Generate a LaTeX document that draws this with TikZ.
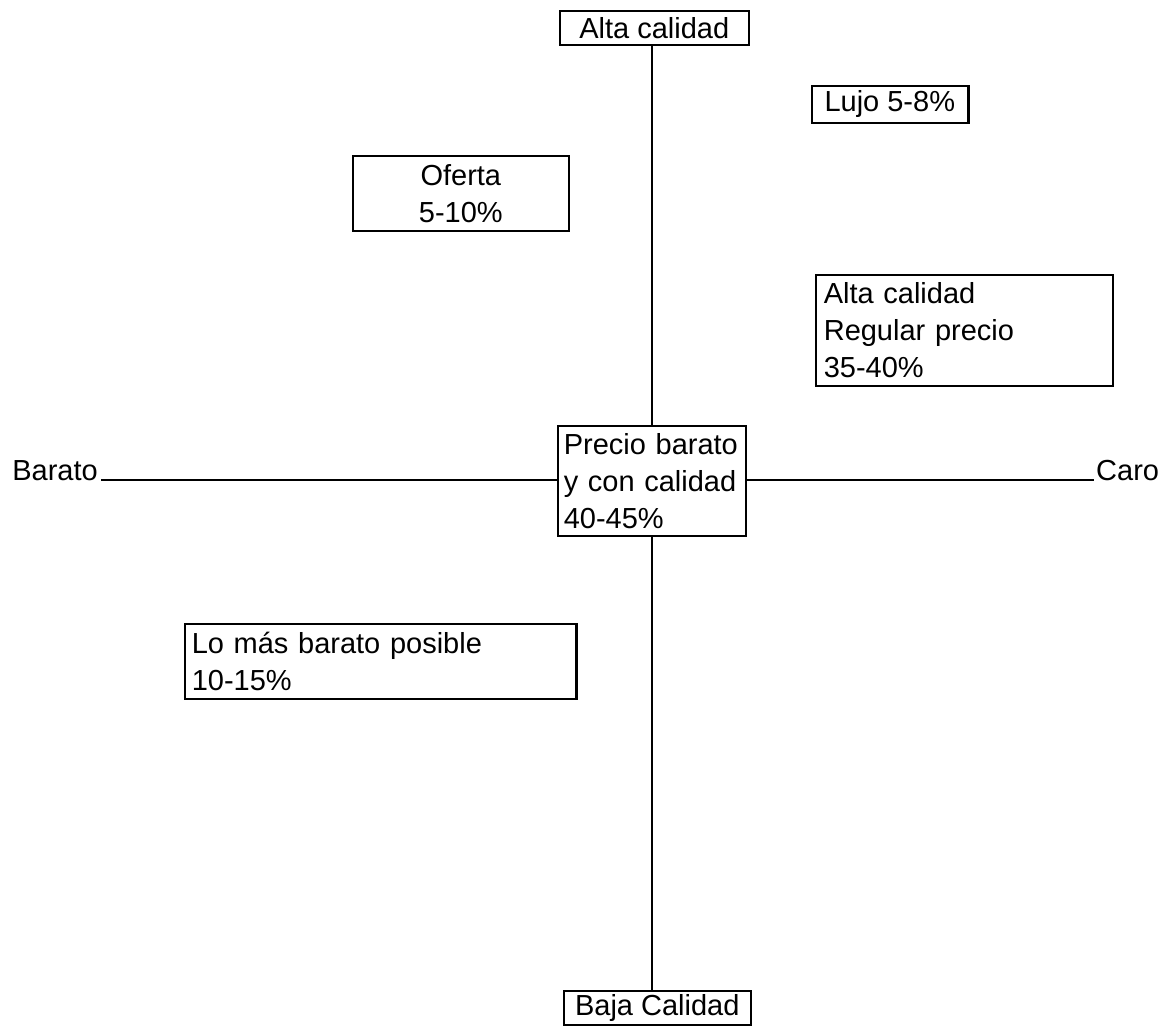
\documentclass[tikz,border=0pt]{standalone}
\usepackage{fontspec}
\setmainfont{Liberation Sans}
\begin{document}
\begin{tikzpicture}[x=1pt,y=-1pt,
  lbl/.style={font=\fontsize{29}{37}\selectfont, inner sep=3pt},
  boxc/.style={draw, line width=1.6pt, anchor=north west, inner xsep=8pt, inner ysep=0pt,
    font=\fontsize{29}{37}\selectfont, align=center},
  axis/.style={line width=1.5pt}]
\useasboundingbox (0,0) rectangle (1166,1025);
% boxes
\node[boxc, minimum width=189pt, minimum height=34pt] (top) at (559,10) {Alta calidad};
\node[boxc, minimum width=156pt, minimum height=37pt] (lujo) at (811,85) {Lujo 5-8\%};
\node[boxc, minimum width=216pt, minimum height=75pt] (oferta) at (352,155) {Oferta\\5-10\%};
\node[boxc, minimum width=297pt, minimum height=111pt, text width=281pt, align=left] (altareg) at (815,274) {Alta calidad\\Regular precio\\35-40\%};
\node[boxc, minimum width=188pt, minimum height=110pt, text width=176pt, align=left, inner xsep=6pt] (center) at (557,425) {Precio barato\\y con calidad\\40-45\%};
\node[boxc, minimum width=391pt, minimum height=75pt, text width=377pt, align=left, inner xsep=7pt] (lomas) at (184,623) {Lo más barato posible\\10-15\%};
\node[boxc, minimum width=187pt, minimum height=34pt] (bottom) at (563,990) {Baja Calidad};
% thicker right edges
\draw[line width=3pt] (lujo.north east) -- (lujo.south east);
\draw[line width=3pt] (lomas.north east) -- (lomas.south east);
% axis labels
\node[lbl, anchor=base east] (barato) at (101,480) {Barato};
\node[lbl, anchor=base west, inner sep=2pt] (caro) at (1094,480) {Caro};
% axes
\draw[axis] (center.north) -- (center.north |- top.south);
\draw[axis] (center.south) -- (center.south |- bottom.north);
\draw[axis] (barato.base east) -- (barato.base east -| center.west);
\draw[axis] (center.east |- caro.base west) -- (caro.base west);
\end{tikzpicture}
\end{document}
